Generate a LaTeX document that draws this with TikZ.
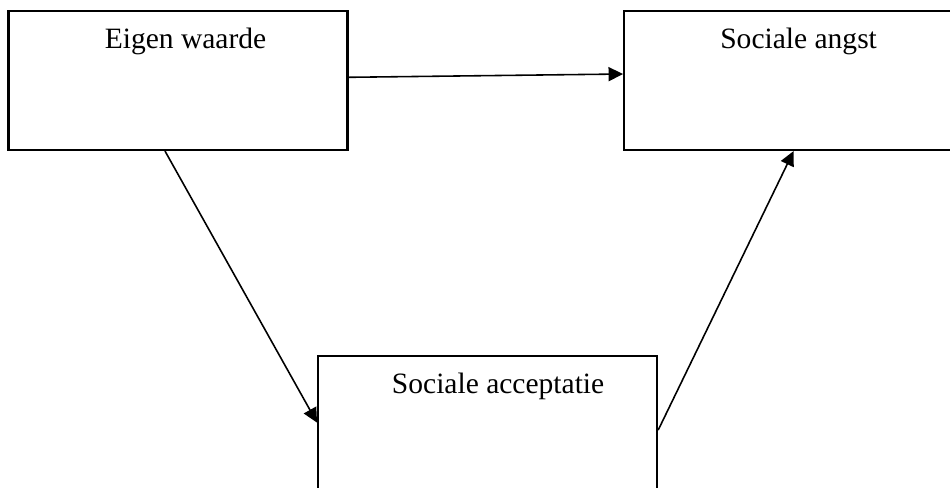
\documentclass[tikz,border=0pt]{standalone}
\usepackage{fontspec}
\setmainfont{Liberation Serif}
\usetikzlibrary{arrows.meta, positioning}

\begin{document}
\begin{tikzpicture}[>=Triangle, node distance=1cm,
    factor/.style = {rectangle, minimum width=6.78cm, minimum height=2.78cm, draw=black, line width=1.2pt, inner sep=0pt},
    factortext/.style = {anchor=base, inner sep=0pt, font=\fontsize{16.8}{20}\selectfont},
    arrow/.style = {line width=0.9pt, -{Triangle[length=0.29cm, width=0.28cm]}}]
        \useasboundingbox (0,0) rectangle (19,-9.76);
        % Nodes
        \node (eigen) [factor] at (3.56,-1.61) {};
        \node (angst) [factor, right=5.49cm of eigen] {};
        \node (acceptatie) [factor, below right=4.08cm and -0.63cm of eigen.south east] {};

        \node (eigentext) [factortext] at ([xshift=0.15cm, yshift=-0.78cm]eigen.north) {Eigen waarde};
        \node (angsttext) [factortext] at ([xshift=0.1cm, yshift=-0.78cm]angst.north) {Sociale angst};
        \node (acceptatietext) [factortext] at ([xshift=0.21cm, yshift=-0.76cm]acceptatie.north) {Sociale acceptatie};

        % Arrows
        \draw [arrow] ([yshift=0.064cm]eigen.east) -- ([yshift=0.13cm]angst.west);
        \draw [arrow] ([xshift=-0.26cm]eigen.south) -- ([yshift=0.06cm]acceptatie.west);
        \draw [arrow] ([yshift=-0.09cm]acceptatie.east) -- (angst.south);
\end{tikzpicture}
\end{document}
